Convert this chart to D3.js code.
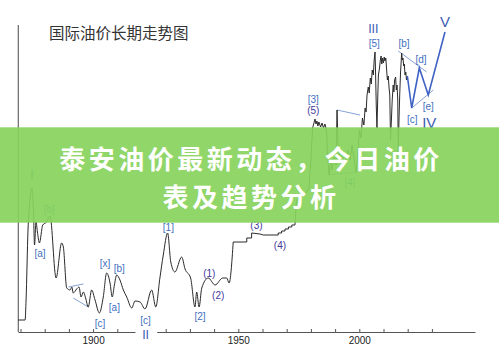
<!DOCTYPE html>
<html>
<head>
<meta charset="utf-8">
<script src="https://cdn.jsdelivr.net/npm/d3@7"></script>
<style>
  body { margin: 0; background: #fff; }
  svg { display: block; }
</style>
</head>
<body>
<div id="chart"></div>
<script>
// long term oil price, levels (no y ticks in the source)
var earlyPrices = [
  [1859.0, 12], [1861.9, 12], [1862.3, 32], [1863.1, 102], [1863.9, 132], [1864.75, 144],
  [1865.4, 117], [1865.8, 87], [1866.4, 110], [1867.0, 100], [1867.8, 89], [1869.2, 107],
  [1870.8, 110], [1872.2, 116], [1874.7, 54], [1877.0, 89], [1877.7, 85], [1879.1, 44],
  [1880.5, 42], [1881.2, 45], [1881.8, 39], [1883.2, 43], [1884.2, 45], [1885.0, 35],
  [1886.0, 40], [1886.9, 34], [1888.0, 25], [1889.4, 42], [1890.8, 32], [1892.6, 19],
  [1894.2, 35], [1895.6, 59], [1897.0, 49], [1897.9, 35], [1898.8, 47], [1899.75, 57],
  [1901.1, 52], [1902.5, 42], [1903.9, 35], [1906.0, 24], [1907.3, 31], [1909.4, 30],
  [1911.45, 23], [1914.2, 42], [1915.9, 25], [1917.6, 54], [1919.0, 77], [1920.8, 99],
  [1922.1, 70], [1923.8, 60], [1926.6, 75], [1928.0, 63], [1930.3, 54], [1932.1, 25],
  [1932.8, 40], [1933.8, 25], [1934.9, 44], [1937.6, 54], [1940.4, 47], [1943.55, 54],
  [1945.2, 54], [1946.2, 49], [1947.9, 90]
];

var modernPrices = [
  [1947.9, 90], [1953.5, 90], [1953.5, 94], [1955.5, 94], [1955.5, 99], [1959.0, 98],
  [1960.3, 97], [1966.5, 97], [1966.5, 99], [1967.9, 99], [1967.9, 101], [1969.3, 101],
  [1969.3, 103], [1970.7, 103], [1970.7, 105], [1972.1, 105], [1972.1, 107], [1973.4, 107],
  [1974.1, 132], [1977.6, 137], [1979.2, 144], [1980.0, 172], [1980.7, 204], [1981.7, 213],
  [1982.1, 208], [1982.5, 211], [1982.9, 206], [1983.3, 210], [1984.0, 205], [1984.6, 209],
  [1985.2, 204], [1985.8, 208], [1986.45, 202], [1986.9, 177], [1987.5, 157], [1988.1, 172],
  [1988.7, 162], [1989.5, 174], [1990.4, 167], [1990.8, 222], [1991.2, 187], [1992.0, 172],
  [1992.85, 180], [1993.7, 167], [1994.5, 174], [1995.3, 182], [1996.2, 172], [1997.0, 187],
  [1997.8, 174], [1998.6, 160], [1999.5, 182], [2000.1, 202], [2000.7, 194], [2001.3, 214],
  [2001.9, 207], [2002.4, 224], [2002.8, 220], [2003.2, 237], [2003.7, 245], [2004.1, 239],
  [2004.55, 254], [2004.95, 248], [2005.35, 262], [2005.8, 257], [2006.15, 272], [2006.5, 280],
  [2006.7, 262], [2007.0, 227], [2007.3, 204], [2007.65, 237], [2007.9, 257], [2008.35, 264],
  [2008.7, 272], [2009.0, 276], [2009.3, 268], [2009.6, 274], [2009.95, 269], [2010.3, 275],
  [2010.6, 271], [2010.95, 274], [2011.3, 262], [2011.6, 252], [2011.95, 256], [2012.3, 244],
  [2012.6, 237], [2012.9, 192], [2013.3, 214], [2013.6, 232], [2014.0, 247], [2014.3, 240],
  [2014.6, 252], [2015.0, 255], [2015.3, 242], [2015.6, 247], [2015.9, 232], [2016.1, 180],
  [2016.4, 212], [2016.7, 237], [2017.05, 260], [2017.3, 270], [2017.5, 279], [2017.75, 272],
  [2018.05, 274], [2018.35, 266], [2018.6, 268], [2018.9, 257], [2019.2, 260], [2019.5, 252],
  [2019.85, 256]
];

// projected wave IV triangle and wave V
var forecastPath = [[2019.85, 256], [2021.65, 224], [2024.8, 264], [2028.5, 237], [2035.4, 300]];

// thin guide lines
var guideLines = [
  [[1879.8, 45], [1886.0, 48]],
  [[1881.8, 34], [1888.0, 25]],
  [[1987.1, 157], [1999.5, 160]],
  [[1990.8, 222], [2000.3, 217]],
  [[2016.1, 281], [2027.85, 260]],
  [[2021.65, 224], [2030.6, 242]]
];

// wave labels: text, year, level, kind
var waveLabels = [
  ["I", 1864.75, 157, "major"], ["[a]", 1868.05, 79, "minor"], ["[b]", 1871.9, 123, "minor"],
  ["[x]", 1894.9, 69, "minor"], ["[b]", 1900.8, 64, "minor"], ["[a]", 1898.8, 25, "minor"],
  ["[c]", 1892.85, 9, "minor"], ["[c]", 1911.7, 12, "minor"], ["II", 1911.7, -3, "major"],
  ["[1]", 1921.1, 105, "minor"], ["[2]", 1934.2, 16, "minor"], ["(1)", 1938.0, 59, "sub"],
  ["(2)", 1941.7, 37, "sub"], ["(3)", 1957.5, 107, "sub"], ["(4)", 1967.2, 87, "sub"],
  ["[3]", 1981.0, 233, "minor"], ["(5)", 1981.0, 222, "sub"], ["[4]", 1996.2, 150, "minor"],
  ["III", 2005.8, 303, "major"], ["[5]", 2006.2, 289, "minor"], ["[b]", 2018.5, 289, "minor"],
  ["[d]", 2025.5, 273, "minor"], ["[c]", 2021.9, 213, "minor"], ["[e]", 2028.5, 226, "minor"],
  ["IV", 2028.9, 209, "big"], ["V", 2035.4, 310, "big"]
];

var leftTicks = [1870, 1880, 1890, 1900, 1910];
var rightTicks = [1920, 1930, 1940, 1950, 1960, 1970, 1980, 1990, 2000, 2010, 2020, 2030];
var labeledYears = [1900, 1950, 2000];

var chartTitle = "国际油价长期走势图";
var bannerLines = ["泰安油价最新动态，今日油价", "表及趋势分析"];

function init() {
    var w = 499;
    var h = 352;

    var svg = d3.select("#chart")
                .append("svg")
                .attr("width", w)
                .attr("height", h);

    svg.append("rect").attr("width", w).attr("height", h).attr("fill", "#fff");

    // 2.42 px per year, 1950 sits at x = 238.3
    var x = d3.scaleLinear().domain([1950, 2000]).range([238.3, 359.3]);
    var y = d3.scaleLinear().domain([0, 310]).range([332, 22]);

    // title
    svg.append("text")
       .attr("x", 49)
       .attr("y", 38.5)
       .attr("font-family", "'Noto Sans CJK SC', sans-serif")
       .attr("font-size", "15.5px")
       .attr("fill", "#333")
       .text(chartTitle);

    // y axis line (no ticks in the source)
    svg.append("line")
       .attr("x1", 18.3).attr("x2", 18.3)
       .attr("y1", 25).attr("y2", y(0))
       .attr("stroke", "#666")
       .attr("stroke-width", 1.2);

    // broken x axis: the left piece is labeled one decade later, as in the source
    var fmt = function(d) { return labeledYears.indexOf(d) >= 0 ? String(d) : ""; };
    var xLeft = d3.scaleLinear()
                  .domain([1869, 1917.3])
                  .range([x(1859), x(1907.3)]);
    var xRight = d3.scaleLinear()
                   .domain([1916.3, 2047.8])
                   .range([x(1916.3), x(2047.8)]);

    [[xLeft, leftTicks], [xRight, rightTicks]].forEach(function(p) {
        var g = svg.append("g")
           .attr("transform", "translate(0," + y(0) + ")")
           .call(d3.axisBottom(p[0])
                   .tickValues(p[1])
                   .tickFormat(fmt)
                   .tickSizeInner(-3)
                   .tickSizeOuter(0)
                   .tickPadding(5));
        g.select(".domain").attr("stroke", "#555");
        g.selectAll(".tick line").attr("stroke", "#555");
        g.selectAll(".tick text")
         .attr("fill", "#222")
         .attr("font-family", "'Liberation Sans', Arial, sans-serif")
         .attr("font-size", "10px");
    });

    var lineSmooth = d3.line()
                       .x(function(d) { return x(d[0]); })
                       .y(function(d) { return y(d[1]); })
                       .curve(d3.curveMonotoneX);
    var lineStraight = d3.line()
                         .x(function(d) { return x(d[0]); })
                         .y(function(d) { return y(d[1]); });

    // guide lines
    guideLines.forEach(function(seg) {
        svg.append("path")
           .attr("d", lineStraight(seg))
           .attr("fill", "none")
           .attr("stroke", "#86a3d6")
           .attr("stroke-width", 1);
    });

    svg.append("path")
       .datum(earlyPrices)
       .attr("d", lineSmooth)
       .attr("fill", "none")
       .attr("stroke", "#2a2a2a")
       .attr("stroke-width", 1);

    svg.append("path")
       .datum(modernPrices)
       .attr("d", lineStraight)
       .attr("fill", "none")
       .attr("stroke", "#2a2a2a")
       .attr("stroke-width", 1);

    svg.append("path")
       .datum(forecastPath)
       .attr("d", lineStraight)
       .attr("fill", "none")
       .attr("stroke", "#3f62c4")
       .attr("stroke-width", 1.6);

    // wave labels
    var styles = {
        minor: { size: "10px", color: "#4470c0" },
        sub:   { size: "10px", color: "#43399c" },
        major: { size: "12.5px", color: "#3d5db3" },
        big:   { size: "15px", color: "#3d5db3" }
    };
    svg.selectAll(".wave")
       .data(waveLabels)
       .enter()
       .append("text")
       .attr("class", "wave")
       .attr("x", function(d) { return x(d[1]); })
       .attr("y", function(d) { return y(d[2]); })
       .attr("dy", "0.35em")
       .attr("text-anchor", "middle")
       .attr("font-family", "'Liberation Sans', Arial, sans-serif")
       .attr("font-size", function(d) { return styles[d[3]].size; })
       .attr("fill", function(d) { return styles[d[3]].color; })
       .text(function(d) { return d[0]; });

    // green headline banner laid over the chart
    svg.append("rect")
       .attr("x", 0)
       .attr("y", 127.3)
       .attr("width", w)
       .attr("height", 95.4)
       .attr("fill", "#87d35c")
       .attr("opacity", 0.92);

    svg.selectAll(".banner")
       .data(bannerLines)
       .enter()
       .append("text")
       .attr("class", "banner")
       .attr("x", 251)
       .attr("y", function(d, i) { return 168.5 + i * 38; })
       .attr("text-anchor", "middle")
       .attr("font-family", "'Noto Sans CJK SC', sans-serif")
       .attr("font-weight", "bold")
       .attr("font-size", "26px")
       .attr("letter-spacing", "3.5px")
       .attr("fill", "#fff")
       .text(function(d) { return d; });
}

window.onload = init;
</script>
</body>
</html>
